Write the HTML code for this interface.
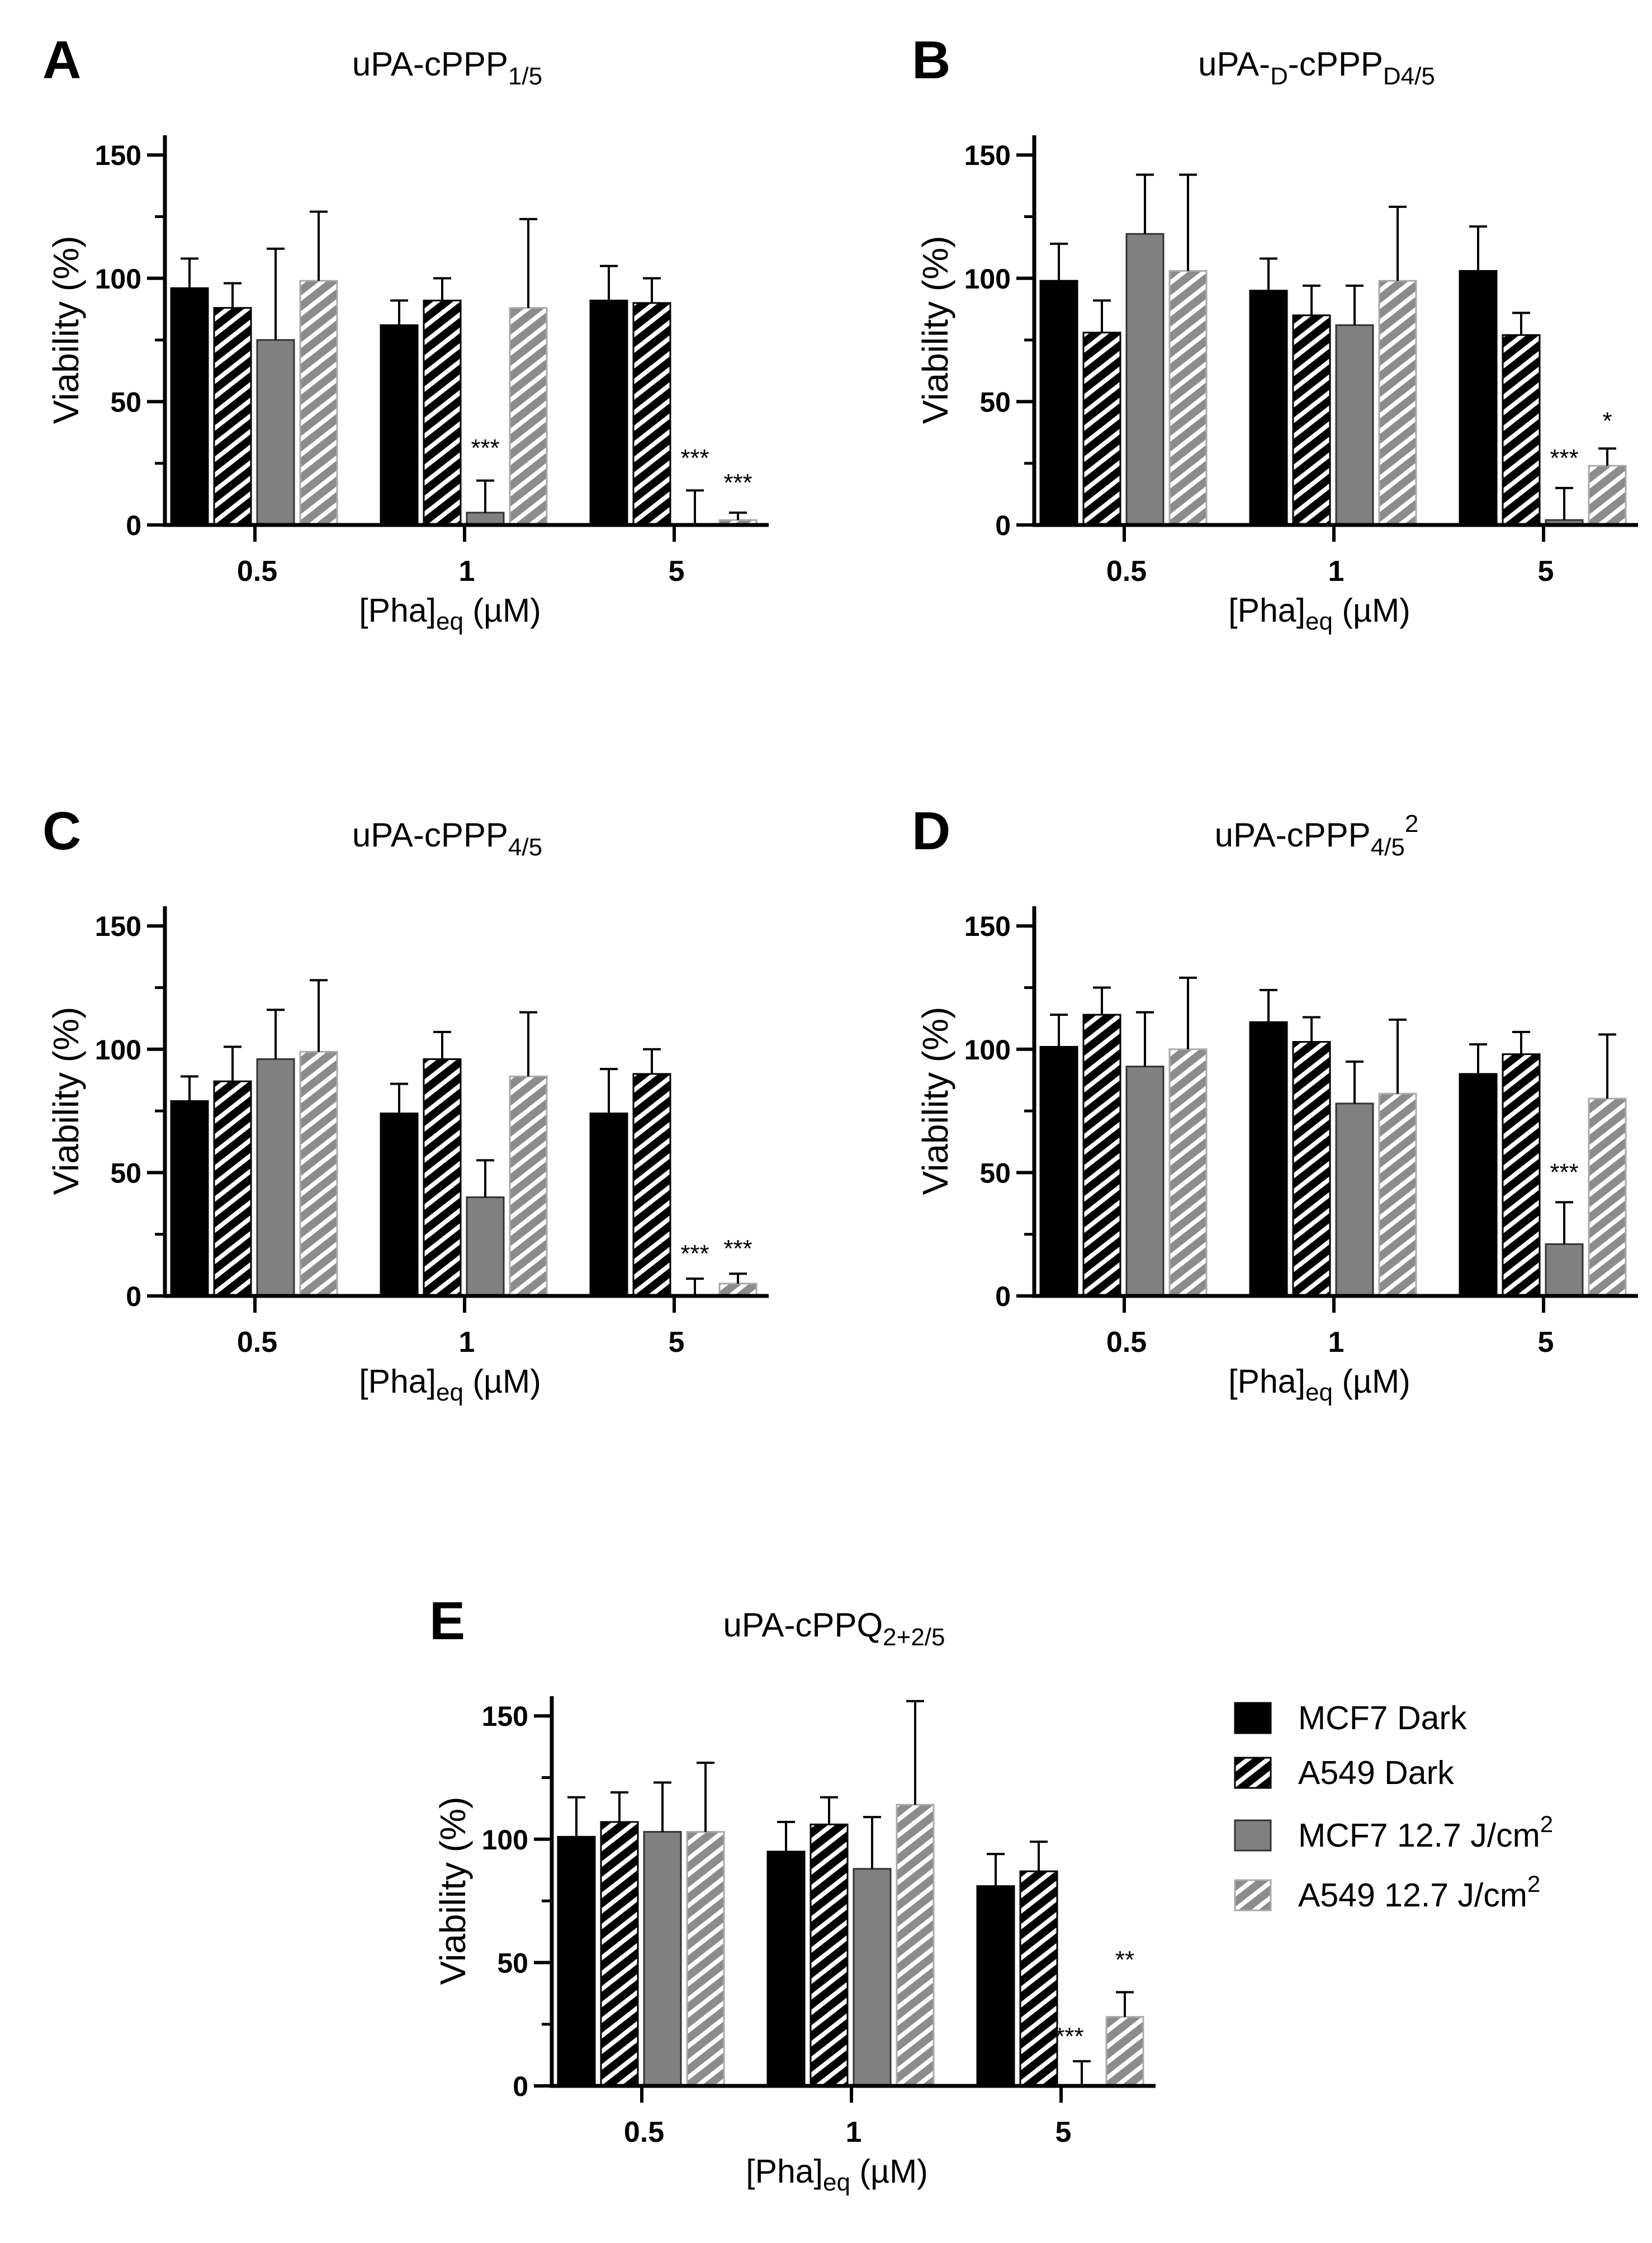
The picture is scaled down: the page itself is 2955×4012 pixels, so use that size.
<!DOCTYPE html>
<html><head><meta charset="utf-8"><style>
html,body{margin:0;padding:0;background:#fff}
svg{display:block}
text{font-family:"Liberation Sans",Arial,sans-serif}
</style></head><body>
<svg id="fig" xmlns="http://www.w3.org/2000/svg" width="2955" height="4012" viewBox="0 0 2955 4012">
<defs>
<pattern id="stripeBlack" patternUnits="userSpaceOnUse" width="22" height="22" patternTransform="rotate(52)">
<rect width="22" height="22" fill="#000"/><rect x="0" y="0" width="8" height="22" fill="#fff"/></pattern>
<pattern id="stripeGray" patternUnits="userSpaceOnUse" width="22" height="22" patternTransform="rotate(52)">
<rect width="22" height="22" fill="#8c8c8c"/><rect x="0" y="0" width="8" height="22" fill="#fff"/></pattern>
</defs>
</svg>
<script>
const categories = ["0.5", "1", "5"];
const seriesNames = ["MCF7 Dark", "A549 Dark", "MCF7 12.7 J/cm", "A549 12.7 J/cm"];
const yTicks = [0, 50, 100, 150];
// values per panel: [series][category]
const valsA = [[96,81,91],[88,91,90],[75,5,0],[99,88,2]];
const errsA = [[108,91,105],[98,100,100],[112,18,14],[127,124,5]];
// stars: [categoryIndex, seriesIndex, text, value]
const starsA = [[1,2,"***",31],[2,2,"***",27],[2,3,"***",17]];
const valsB = [[99,95,103],[78,85,77],[118,81,2],[103,99,24]];
const errsB = [[114,108,121],[91,97,86],[142,97,15],[142,129,31]];
const starsB = [[2,2,"***",27],[2,3,"*",42]];
const valsC = [[79,74,74],[87,96,90],[96,40,0],[99,89,5]];
const errsC = [[89,86,92],[101,107,100],[116,55,7],[128,115,9]];
const starsC = [[2,2,"***",17],[2,3,"***",19]];
const valsD = [[101,111,90],[114,103,98],[93,78,21],[100,82,80]];
const errsD = [[114,124,102],[125,113,107],[115,95,38],[129,112,106]];
const starsD = [[2,2,"***",50]];
const valsE = [[101,95,81],[107,106,87],[103,88,0],[103,114,28]];
const errsE = [[117,107,94],[119,117,99],[123,109,10],[131,156,38]];
const starsE = [[2,2,"***",20,-22],[2,3,"**",51]];

const NS = "http://www.w3.org/2000/svg";
const svg = document.getElementById("fig");
const fills = ["#000","url(#stripeBlack)","#808080","url(#stripeGray)"];
const strokes = ["#000","#000","#333","#aaa"];

function mk(tag, attrs, parent){const e=document.createElementNS(NS,tag);for(const k in attrs)e.setAttribute(k,attrs[k]);(parent||svg).appendChild(e);return e;}

function panel(id, ox, oy, letter, titleParts, vals, errs, stars){
  const g = mk("g",{transform:`translate(${ox},${oy})`});
  
  
  const axX=295, y0=939, per=220.6/50, axEnd=1375, top=242;
  const ys = v => y0 - v*per;
  const xc = i => 456 + i*375;
  const L = mk("text",{x:76,y:140,"font-size":96,"font-weight":"bold"},g); L.textContent=letter;
  
  
  const T = mk("text",{x:800,y:135,"font-size":60,"text-anchor":"middle"},g);
  
  
  titleParts.forEach(p=>{const s=mk("tspan",{},T);s.textContent=p[0];
    if(p[1]==="sub"){s.setAttribute("font-size","44");s.setAttribute("dy","16");}
    else if(p[1]==="sup"){s.setAttribute("font-size","44");s.setAttribute("dy","-42");}
    else if(p[1]==="back"){s.setAttribute("dy","-16");}
  });
  vals.forEach((ser,si)=>{ser.forEach((v,ci)=>{
    const x = xc(ci)-150+si*77, w=66;
    const r = mk("rect",{x:x,y:ys(v),width:w,height:Math.max(y0-ys(v),0.01),fill:fills[si],stroke:strokes[si],"stroke-width":3},g);
    
    
    const cx = x+w/2, e=errs[si][ci];
    const el = mk("path",{d:`M${cx},${ys(v)} V${ys(e)} M${cx-16},${ys(e)} H${cx+16}`,stroke:"#000","stroke-width":4,fill:"none"},g);
    
    
  });});
  stars.forEach(s=>{const [ci,si,txt,val,dx]=s;
    const cx=xc(ci)-150+si*77+33+(dx||0);
    const t=mk("text",{x:cx,y:ys(val)+14,"font-size":44,"text-anchor":"middle"},g);t.textContent=txt;
    
    
  });
  const ax = mk("path",{d:`M${axX},${top} V${y0} H${axEnd}`,stroke:"#000","stroke-width":7,fill:"none"},g);
  
  
  [25,75,125].forEach(v=>{const m=mk("line",{x1:axX-18,x2:axX,y1:ys(v),y2:ys(v),stroke:"#000","stroke-width":5},g);
    
    });
  yTicks.forEach(v=>{mk("line",{x1:axX-32,x2:axX,y1:ys(v),y2:ys(v),stroke:"#000","stroke-width":6},g);
    const t=mk("text",{x:axX-42,y:ys(v)+18,"font-size":50,"font-weight":"bold","text-anchor":"end"},g);t.textContent=v;
    
    });
  categories.forEach((c,i)=>{mk("line",{x1:xc(i),x2:xc(i),y1:y0,y2:y0+30,stroke:"#000","stroke-width":6},g);
    const t=mk("text",{x:xc(i)+4,y:y0+100,"font-size":52,"font-weight":"bold","text-anchor":"middle"},g);t.textContent=c;
    
    });
  const yt=mk("text",{x:0,y:0,"font-size":64,"text-anchor":"middle",transform:`translate(140,590) rotate(-90)`},g);
  yt.textContent="Viability (%)";
  
  
  const xt=mk("text",{x:805,y:1112,"font-size":59,"text-anchor":"middle"},g);
  
  
  const a=mk("tspan",{},xt);a.textContent="[Pha]";
  const b=mk("tspan",{"font-size":44,dy:14},xt);b.textContent="eq";
  const c=mk("tspan",{dy:-14},xt);c.textContent=" (µM)";
}
panel("a",0,0,"A",[["uPA-cPPP"],["1/5","sub"]],valsA,errsA,starsA);
panel("b",1555,0,"B",[["uPA-"],["D","sub"],["-cPPP","back"],["D4/5","sub"]],valsB,errsB,starsB);
panel("c",0,1379,"C",[["uPA-cPPP"],["4/5","sub"]],valsC,errsC,starsC);
panel("d",1555,1379,"D",[["uPA-cPPP"],["4/5","sub"],["2","sup"]],valsD,errsD,starsD);
panel("e",692,2792,"E",[["uPA-cPPQ"],["2+2/5","sub"]],valsE,errsE,starsE);

const lg = mk("g",{});


const rowsY=[3073,3171,3283,3390];
seriesNames.forEach((n,i)=>{
  const r=mk("rect",{x:2209,y:rowsY[i]-27,width:64,height:54,fill:fills[i],stroke:strokes[i],"stroke-width":3},lg);
  
  
  const t=mk("text",{x:2322,y:rowsY[i]+20,"font-size":59},lg);
  
  
  const s=mk("tspan",{},t);s.textContent=n;
  if(i>=2){const p=mk("tspan",{"font-size":42,dy:-26},t);p.textContent="2";}
});
</script>
</body></html>
